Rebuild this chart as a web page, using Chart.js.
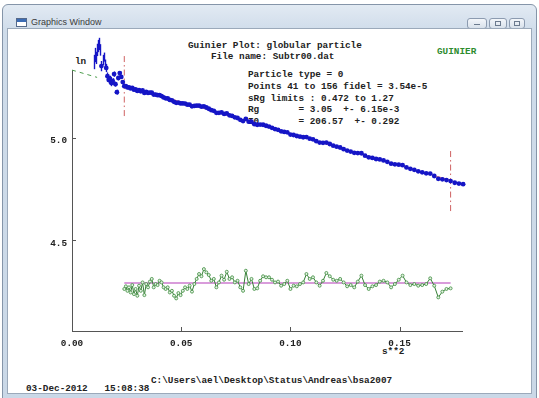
<!DOCTYPE html>
<html>
<head>
<meta charset="utf-8">
<title>Guinier Plot</title>
<script src="https://cdn.jsdelivr.net/npm/chart.js@4.4.1/dist/chart.umd.min.js"></script>
<style>
  html, body { margin: 0; padding: 0; background: #fff; }
  body { width: 539px; height: 398px; position: relative; overflow: hidden; font-family: "Liberation Mono", monospace; }
  .win { position: absolute; left: 2px; top: 4px; width: 535px; height: 398px; box-sizing: border-box;
         border: 1px solid #8595a9; border-radius: 6px 6px 0 0;
         background: linear-gradient(#e2eaf3, #cfdcea 26px, #cad8e7); }
  .caption { position: absolute; left: 28px; top: 12px; font: 9px "Liberation Sans", sans-serif; color: #3b3b3b; }
  .icon { position: absolute; left: 13px; top: 13px; width: 9px; height: 7px; border: 1px solid #55698a;
          background: linear-gradient(#3c6cb4 0, #3c6cb4 3px, #fff 3px); }
  .btn { position: absolute; top: 13px; height: 11px; box-sizing: border-box; border: 1px solid #8c9bb0;
         border-radius: 3px; background: linear-gradient(#f3f6fa, #d8e1eb); }
  .btn i { position: absolute; display: block; border-color: #6b7a8e; border-style: solid; }
  .client { position: absolute; left: 8px; top: 29px; width: 523px; height: 364px; background: #fff;
            box-shadow: 0 0 0 1px #9ba9ba; }
  .lbl { position: absolute; font-weight: bold; font-size: 9.35px; line-height: 11px; white-space: pre; color: #222; }
  canvas { position: absolute; left: 8px; top: 29px; }
</style>
</head>
<body>
<div class="win">
  <div class="icon"></div>
  <div class="caption">Graphics Window</div>
  <div class="btn" style="left:464px;width:20px"><i style="left:6px;top:5px;width:6px;height:0;border-width:1px 0 0 0"></i></div>
  <div class="btn" style="left:486px;width:18px"><i style="left:5px;top:2px;width:4px;height:3px;border-width:1px"></i></div>
  <div class="btn" style="left:506px;width:16px"><i style="left:4px;top:2px;width:4px;height:3px;border-width:1px"></i></div>
</div>
<div class="client"></div>

<div class="lbl" style="left:188px;top:40px">Guinier Plot: globular particle</div>
<div class="lbl" style="left:211px;top:51px">File name: Subtr00.dat</div>
<div class="lbl" style="left:437px;top:46px;color:#2f8c2f">GUINIER</div>
<div class="lbl" style="left:248px;top:69px">Particle type = 0</div>
<div class="lbl" style="left:248px;top:81px">Points 41 to 156 fidel = 3.54e-5</div>
<div class="lbl" style="left:248px;top:93px">sRg limits : 0.472 to 1.27</div>
<div class="lbl" style="left:248px;top:104px">Rg       = 3.05  +- 6.15e-3</div>
<div class="lbl" style="left:248px;top:116px">I0       = 206.57  +- 0.292</div>
<div class="lbl" style="left:75px;top:56px">ln</div>
<div class="lbl" style="left:382px;top:346px">s**2</div>
<div class="lbl" style="left:151px;top:375px">C:\Users\ael\Desktop\Status\Andreas\bsa2007</div>
<div class="lbl" style="left:26px;top:383px">03-Dec-2012   15:08:38</div>

<canvas id="guinier" width="523" height="364"></canvas>

<script>
// fit results printed in the header
const rg = 3.05;
const i0 = 206.57;
const sRgLimits = [0.472, 1.27];

// s**2 of every plotted point (points 17..159)
const s2 = [
  0.01003, 0.01049, 0.01096, 0.01144, 0.01194, 0.01244, 0.01295, 0.01347, 0.01401, 0.01455,
  0.01511, 0.01567, 0.01624, 0.01683, 0.01743, 0.01803, 0.01865, 0.01927, 0.01991, 0.02056,
  0.02122, 0.02188, 0.02256, 0.02325,
  0.02395, 0.02466, 0.02538, 0.02611, 0.02685, 0.02760, 0.02836, 0.02913, 0.02991, 0.03071,
  0.03151, 0.03232, 0.03314, 0.03398, 0.03482, 0.03568, 0.03654, 0.03742, 0.03830, 0.03920,
  0.04010, 0.04102, 0.04195, 0.04288, 0.04383, 0.04479, 0.04576, 0.04673, 0.04772, 0.04872,
  0.04973, 0.05075, 0.05178, 0.05282, 0.05387, 0.05494, 0.05601, 0.05709, 0.05818, 0.05928,
  0.06040, 0.06152, 0.06265, 0.06380, 0.06495, 0.06612, 0.06729, 0.06848, 0.06967, 0.07088,
  0.07210, 0.07332, 0.07456, 0.07581, 0.07707, 0.07834, 0.07961, 0.08090, 0.08220, 0.08351,
  0.08483, 0.08616, 0.08750, 0.08886, 0.09022, 0.09159, 0.09297, 0.09436, 0.09577, 0.09718,
  0.09860, 0.10004, 0.10148, 0.10294, 0.10440, 0.10588, 0.10736, 0.10886, 0.11036, 0.11188,
  0.11341, 0.11495, 0.11649, 0.11805, 0.11962, 0.12120, 0.12279, 0.12439, 0.12600, 0.12762,
  0.12925, 0.13089, 0.13254, 0.13420, 0.13588, 0.13756, 0.13925, 0.14095, 0.14267, 0.14439,
  0.14613, 0.14787, 0.14963, 0.15139, 0.15317, 0.15495, 0.15675, 0.15855, 0.16037, 0.16220,
  0.16404, 0.16589, 0.16774, 0.16961, 0.17149, 0.17338, 0.17528, 0.17719, 0.17911
];

// ln I for the same points
const lnI = [
  5.370, 5.404, 5.390, 5.429, 5.448, 5.458, 5.429, 5.350, 5.380, 5.394,
  5.360, 5.341, 5.301, 5.282, 5.287, 5.267, 5.277, 5.311, 5.262, 5.223,
  5.292, 5.316, 5.297, 5.272,
  5.252, 5.252, 5.246, 5.246, 5.241, 5.244, 5.235, 5.236, 5.229, 5.233,
  5.227, 5.231, 5.219, 5.224, 5.219, 5.221, 5.220, 5.211, 5.211, 5.208,
  5.208, 5.204, 5.197, 5.193, 5.192, 5.185, 5.183, 5.176, 5.171, 5.172,
  5.168, 5.168, 5.167, 5.162, 5.162, 5.154, 5.156, 5.157, 5.157, 5.152,
  5.154, 5.148, 5.142, 5.135, 5.132, 5.122, 5.122, 5.124, 5.117, 5.119,
  5.110, 5.107, 5.100, 5.097, 5.088, 5.082, 5.093, 5.079, 5.079, 5.067,
  5.064, 5.065, 5.064, 5.059, 5.055, 5.049, 5.043, 5.039, 5.032, 5.029,
  5.027, 5.016, 5.014, 5.009, 5.006, 5.003, 5.004, 4.996, 4.993, 4.984,
  4.977, 4.976, 4.977, 4.970, 4.962, 4.957, 4.953, 4.945, 4.938, 4.933,
  4.927, 4.926, 4.925, 4.913, 4.905, 4.902, 4.897, 4.895, 4.890, 4.883,
  4.874, 4.871, 4.869, 4.867, 4.856, 4.849, 4.844, 4.837, 4.832, 4.827,
  4.826, 4.814, 4.800, 4.798, 4.794, 4.789, 4.781, 4.777, 4.774
];

// error bars of the low-angle points ahead of the fit range
const lnIErr = [
  0.035, 0.035, 0.030, 0.030, 0.030, 0.030, 0.028, 0.025, 0.025, 0.022,
  0.022, 0.020, 0.018, 0.018, 0.016, 0.015, 0.014, 0.013, 0.012, 0.012,
  0.011, 0.010, 0.010, 0.009
];

// residual trace for points 41..156, drawn around residualBase
const firstFitPoint = 24;
const residualBase = 4.292;
const residual = [
  4.263, 4.276, 4.254, 4.271, 4.246, 4.282, 4.238, 4.263, 4.230, 4.279,
  4.254, 4.295, 4.233, 4.287, 4.271, 4.299, 4.312, 4.271, 4.287, 4.282,
  4.303, 4.295, 4.271, 4.263, 4.271, 4.246, 4.254, 4.230, 4.217, 4.243,
  4.233, 4.254, 4.271, 4.263, 4.279, 4.250, 4.287, 4.312, 4.336, 4.325,
  4.360, 4.344, 4.331, 4.303, 4.312, 4.271, 4.295, 4.328, 4.308, 4.347,
  4.312, 4.320, 4.295, 4.303, 4.271, 4.254, 4.352, 4.287, 4.312, 4.263,
  4.266, 4.303, 4.325, 4.320, 4.320, 4.308, 4.295, 4.299, 4.279, 4.287,
  4.303, 4.263, 4.279, 4.276, 4.287, 4.295, 4.336, 4.312, 4.320, 4.295,
  4.279, 4.303, 4.341, 4.325, 4.308, 4.303, 4.312, 4.295, 4.276, 4.282,
  4.271, 4.299, 4.328, 4.282, 4.263, 4.276, 4.282, 4.299, 4.303, 4.295,
  4.271, 4.287, 4.308, 4.328, 4.295, 4.282, 4.287, 4.279, 4.282, 4.287,
  4.315, 4.279, 4.222, 4.250, 4.263, 4.266
];

// axes
const xRange = [0, 0.1786];
const yRange = [4.058, 5.331];
const xTicks = [0, 0.05, 0.10, 0.15];
const yTicks = [4.5, 5.0];
const extrapEnd = 0.0115;     // green dashed run of the fit towards s**2 = 0
const limitHalfSpan = 0.15;   // height of the sRg limit markers around the fit

const fitLn = q2 => Math.log(i0) - rg * rg / 3 * q2;
const q2Lo = Math.pow(sRgLimits[0] / rg, 2);
const q2Hi = Math.pow(sRgLimits[1] / rg, 2);

const points = s2.map((x, i) => ({ x, y: lnI[i] }));
const residualPts = residual.map((y, i) => ({ x: s2[firstFitPoint + i], y }));
const fitLine = [q2Lo, q2Hi].map(x => ({ x, y: fitLn(x) }));
const extrapLine = [0, extrapEnd].map(x => ({ x, y: fitLn(x) }));
const limitLine = q2 => [
  { x: q2, y: fitLn(q2) - limitHalfSpan },
  { x: q2, y: fitLn(q2) + limitHalfSpan }
];

const axisColor = '#555';
const monoBold = { family: 'Liberation Mono', size: 9.35, weight: 'bold' };

// inward tick marks and the low-angle error bars
const axisMarks = {
  id: 'axisMarks',
  afterDatasetsDraw(chart) {
    const { ctx, scales: { x, y } } = chart;
    ctx.save();
    ctx.strokeStyle = '#1515c6';
    ctx.lineWidth = 1.4;
    lnIErr.forEach((e, i) => {
      const px = Math.round(x.getPixelForValue(s2[i])) + 0.5;
      ctx.beginPath();
      ctx.moveTo(px, y.getPixelForValue(lnI[i] - e));
      ctx.lineTo(px, y.getPixelForValue(lnI[i] + e));
      ctx.stroke();
    });
    ctx.restore();
  },
  afterDraw(chart) {
    const { ctx, chartArea, scales: { x, y } } = chart;
    ctx.save();
    ctx.strokeStyle = axisColor;
    ctx.lineWidth = 1;
    ctx.beginPath();
    xTicks.forEach(v => {
      const px = Math.round(x.getPixelForValue(v)) + 0.5;
      ctx.moveTo(px, chartArea.bottom);
      ctx.lineTo(px, chartArea.bottom - 4);
    });
    yTicks.forEach(v => {
      const py = Math.round(y.getPixelForValue(v)) + 0.5;
      ctx.moveTo(chartArea.left, py);
      ctx.lineTo(chartArea.left + 4, py);
    });
    ctx.stroke();
    ctx.restore();
  }
};

new Chart(document.getElementById('guinier'), {
  type: 'scatter',
  data: {
    datasets: [
      {
        data: points,
        order: 1,
        pointRadius: 2.4,
        pointBackgroundColor: '#1515c6',
        pointBorderWidth: 0,
        clip: false
      },
      {
        type: 'line',
        data: limitLine(q2Lo),
        order: 2,
        borderColor: '#cf6262',
        borderWidth: 1,
        borderDash: [6, 3, 1.5, 3],
        pointRadius: 0,
        clip: false
      },
      {
        type: 'line',
        data: limitLine(q2Hi),
        order: 2,
        borderColor: '#cf6262',
        borderWidth: 1,
        borderDash: [6, 3, 1.5, 3],
        pointRadius: 0,
        clip: false
      },
      {
        type: 'line',
        data: fitLine,
        order: 5,
        borderColor: '#e07a7a',
        borderWidth: 1,
        pointRadius: 0
      },
      {
        type: 'line',
        data: extrapLine,
        order: 5,
        borderColor: '#4e9e4e',
        borderWidth: 1,
        borderDash: [4, 4],
        pointRadius: 0,
        clip: false
      },
      {
        type: 'line',
        data: residualPts,
        order: 3,
        borderColor: '#367f36',
        borderWidth: 1,
        pointRadius: 1.5,
        pointBackgroundColor: '#e4f2e4',
        pointBorderColor: '#3d8d3d',
        pointBorderWidth: 0.8
      },
      {
        type: 'line',
        data: [{ x: q2Lo, y: residualBase }, { x: q2Hi, y: residualBase }],
        order: 4,
        borderColor: '#d99cdb',
        borderWidth: 2,
        pointRadius: 0
      }
    ]
  },
  options: {
    responsive: false,
    devicePixelRatio: 1,
    animation: false,
    layout: { padding: { left: 0, right: 69, top: 41, bottom: 32 } },
    plugins: {
      legend: { display: false },
      tooltip: { enabled: false }
    },
    scales: {
      x: {
        type: 'linear',
        min: xRange[0],
        max: xRange[1],
        grid: { display: false, drawTicks: false },
        border: { display: true, color: axisColor, width: 1 },
        afterBuildTicks: s => { s.ticks = xTicks.map(value => ({ value })); },
        afterFit: s => { s.height = 30; },
        ticks: {
          callback: v => v.toFixed(2),
          font: monoBold,
          color: '#222',
          padding: 7,
          maxRotation: 0,
          autoSkip: false
        }
      },
      y: {
        type: 'linear',
        min: yRange[0],
        max: yRange[1],
        grid: { display: false, drawTicks: false },
        border: { display: true, color: axisColor, width: 1 },
        afterBuildTicks: s => { s.ticks = yTicks.map(value => ({ value })); },
        afterFit: s => { s.width = 64; },
        ticks: {
          callback: v => v.toFixed(1),
          font: monoBold,
          color: '#222',
          padding: 5,
          labelOffset: 3
        }
      }
    }
  },
  plugins: [axisMarks]
});
</script>
</body>
</html>
